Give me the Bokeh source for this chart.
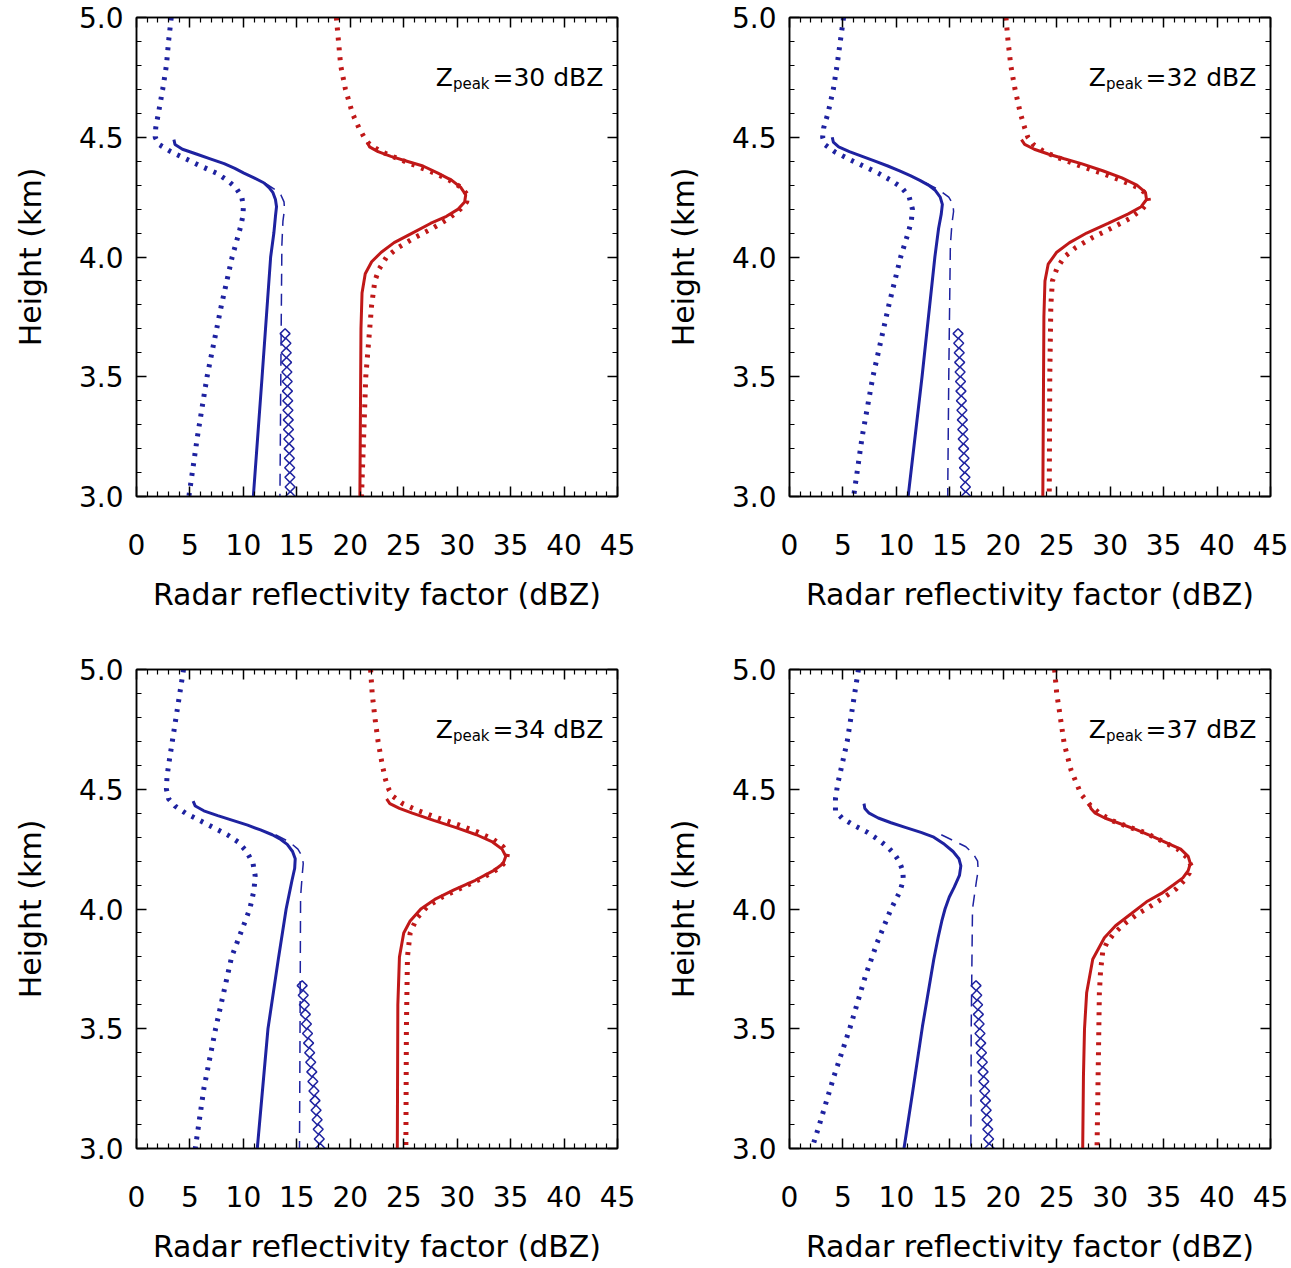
import math
from bokeh.plotting import figure
from bokeh.models import FixedTicker, LinearAxis, Label, Range1d, CustomLabelingPolicy
from bokeh.layouts import column, row
from bokeh.embed import file_html
from bokeh.resources import INLINE

# ---------------- data (height km, reflectivity dBZ) ----------------
peaks = [30, 32, 34, 37]

x_ticks = [0, 5, 10, 15, 20, 25, 30, 35, 40, 45]
x_minor = [v for v in range(0, 46) if v % 5 != 0]
y_ticks = [3.0, 3.5, 4.0, 4.5, 5.0]
y_tick_labels = ["3.0", "3.5", "4.0", "4.5", "5.0"]
y_minor = [3.1, 3.2, 3.3, 3.4, 3.6, 3.7, 3.8, 3.9, 4.1, 4.2, 4.3, 4.4, 4.6, 4.7, 4.8, 4.9]

# panel 1 (Zpeak = 30)
p1_bdot_h = [5.00, 4.90, 4.80, 4.70, 4.60, 4.54, 4.50, 4.47, 4.44, 4.41, 4.38, 4.35, 4.32, 4.29, 4.25, 4.21, 4.17, 4.12, 4.00, 3.80, 3.50, 3.25, 3.00]
p1_bdot_z = [3.25, 3.00, 2.80, 2.45, 2.05, 1.80, 1.75, 2.10, 3.20, 4.60, 6.00, 7.50, 8.50, 9.30, 9.85, 10.0, 9.95, 9.70, 8.95, 7.95, 6.60, 5.70, 4.90]
p1_bsol_h = [4.49, 4.47, 4.45, 4.43, 4.41, 4.39, 4.37, 4.35, 4.33, 4.31, 4.29, 4.27, 4.24, 4.21, 4.17, 4.10, 4.00, 3.50, 3.00]
p1_bsol_z = [3.50, 3.60, 4.30, 5.60, 6.90, 8.20, 9.20, 10.05, 11.0, 11.9, 12.4, 12.75, 13.0, 13.1, 13.0, 12.85, 12.55, 11.75, 10.93]
p1_bdash_h = [4.31, 4.28, 4.26, 4.23, 4.20, 4.15, 4.05, 3.50, 3.00]
p1_bdash_z = [12.0, 13.0, 13.5, 13.8, 13.85, 13.7, 13.6, 13.5, 13.42]
p1_rsol_h = [4.48, 4.46, 4.44, 4.42, 4.40, 4.38, 4.35, 4.32, 4.29, 4.26, 4.23, 4.20, 4.17, 4.14, 4.10, 4.06, 4.02, 3.98, 3.93, 3.85, 3.70, 3.00]
p1_rsol_z = [21.6, 21.8, 22.6, 23.8, 25.3, 26.8, 28.2, 29.5, 30.35, 30.8, 30.7, 30.1, 29.0, 27.5, 25.8, 24.1, 22.9, 22.0, 21.4, 21.1, 21.0, 20.9]
p1_rdot_h = [5.00, 4.90, 4.80, 4.70, 4.60, 4.54, 4.50, 4.47, 4.44, 4.41, 4.38, 4.35, 4.32, 4.29, 4.26, 4.23, 4.20, 4.16, 4.12, 4.08, 4.04, 4.00, 3.95, 3.90, 3.80, 3.50, 3.00]
p1_rdot_z = [18.7, 18.9, 19.1, 19.55, 20.2, 20.8, 21.3, 21.8, 22.9, 24.5, 26.2, 27.9, 29.3, 30.4, 30.95, 30.9, 30.3, 29.2, 27.7, 26.0, 24.5, 23.4, 22.7, 22.3, 22.0, 21.45, 21.05]

# panel 2 (Zpeak = 32)
p2_bdot_h = [5.00, 4.90, 4.80, 4.70, 4.60, 4.54, 4.50, 4.47, 4.44, 4.41, 4.38, 4.35, 4.32, 4.29, 4.25, 4.20, 4.15, 4.10, 4.00, 3.80, 3.50, 3.25, 3.00]
p2_bdot_z = [5.06, 4.75, 4.45, 4.10, 3.60, 3.20, 3.10, 3.30, 4.20, 5.50, 6.90, 8.30, 9.50, 10.5, 11.2, 11.5, 11.4, 11.1, 10.4, 9.30, 7.80, 6.80, 6.00]
p2_bsol_h = [4.50, 4.48, 4.46, 4.44, 4.42, 4.40, 4.38, 4.36, 4.34, 4.32, 4.30, 4.28, 4.25, 4.22, 4.18, 4.12, 4.00, 3.50, 3.00]
p2_bsol_z = [4.00, 4.10, 4.60, 5.60, 6.80, 8.00, 9.20, 10.3, 11.3, 12.2, 13.0, 13.6, 14.1, 14.3, 14.2, 13.95, 13.6, 12.4, 11.1]
p2_bdash_h = [4.31, 4.28, 4.25, 4.22, 4.19, 4.14, 4.05, 3.50, 3.00]
p2_bdash_z = [12.7, 14.0, 14.9, 15.3, 15.35, 15.2, 15.05, 14.9, 14.8]
p2_rsol_h = [4.49, 4.47, 4.45, 4.43, 4.41, 4.39, 4.36, 4.33, 4.30, 4.27, 4.24, 4.21, 4.18, 4.14, 4.10, 4.06, 4.02, 3.97, 3.90, 3.75, 3.00]
p2_rsol_z = [21.7, 22.0, 22.9, 24.2, 25.7, 27.3, 29.3, 31.1, 32.5, 33.3, 33.4, 32.9, 31.7, 29.8, 27.8, 26.2, 25.0, 24.2, 23.9, 23.8, 23.7]
p2_rdot_h = [5.00, 4.90, 4.80, 4.70, 4.60, 4.54, 4.50, 4.47, 4.44, 4.41, 4.38, 4.35, 4.32, 4.29, 4.26, 4.23, 4.20, 4.16, 4.12, 4.08, 4.04, 4.00, 3.95, 3.90, 3.80, 3.50, 3.00]
p2_rdot_z = [20.25, 20.45, 20.7, 21.1, 21.6, 22.0, 22.3, 22.8, 23.8, 25.4, 27.2, 29.2, 31.0, 32.6, 33.5, 33.6, 33.0, 31.8, 30.1, 28.3, 26.8, 25.7, 25.0, 24.6, 24.45, 24.35, 24.3]

# panel 3 (Zpeak = 34)
p3_bdot_h = [5.00, 4.90, 4.80, 4.70, 4.60, 4.55, 4.50, 4.46, 4.43, 4.40, 4.37, 4.34, 4.31, 4.28, 4.24, 4.19, 4.14, 4.08, 4.00, 3.80, 3.50, 3.25, 3.00]
p3_bdot_z = [4.40, 4.05, 3.70, 3.35, 3.00, 2.85, 2.80, 3.00, 3.60, 4.60, 5.90, 7.20, 8.50, 9.50, 10.3, 10.9, 11.1, 11.0, 10.6, 8.90, 7.40, 6.30, 5.50]
p3_bsol_h = [4.45, 4.43, 4.41, 4.39, 4.37, 4.35, 4.33, 4.31, 4.29, 4.27, 4.24, 4.21, 4.17, 4.12, 4.00, 3.80, 3.50, 3.00]
p3_bsol_z = [5.30, 5.50, 6.30, 7.60, 9.00, 10.4, 11.6, 12.7, 13.5, 14.1, 14.6, 14.85, 14.8, 14.55, 14.0, 13.3, 12.3, 11.3]
p3_bdash_h = [4.31, 4.28, 4.25, 4.22, 4.19, 4.14, 4.05, 3.50, 3.00]
p3_bdash_z = [13.0, 14.3, 15.1, 15.5, 15.6, 15.5, 15.35, 15.3, 15.25]
p3_rsol_h = [4.46, 4.44, 4.42, 4.40, 4.37, 4.34, 4.31, 4.28, 4.25, 4.22, 4.19, 4.16, 4.12, 4.08, 4.04, 4.00, 3.95, 3.90, 3.80, 3.60, 3.00]
p3_rsol_z = [23.4, 23.7, 24.6, 25.8, 27.8, 29.9, 31.8, 33.3, 34.2, 34.55, 34.3, 33.4, 31.7, 29.7, 27.9, 26.6, 25.6, 25.0, 24.6, 24.45, 24.4]
p3_rdot_h = [5.00, 4.90, 4.80, 4.70, 4.60, 4.54, 4.50, 4.47, 4.44, 4.41, 4.38, 4.35, 4.32, 4.29, 4.26, 4.23, 4.20, 4.17, 4.13, 4.09, 4.05, 4.01, 3.96, 3.90, 3.80, 3.50, 3.00]
p3_rdot_z = [21.9, 22.05, 22.3, 22.6, 23.0, 23.3, 23.6, 24.0, 24.9, 26.4, 28.2, 30.2, 32.0, 33.4, 34.3, 34.7, 34.6, 33.9, 32.4, 30.5, 28.6, 27.2, 26.2, 25.6, 25.35, 25.25, 25.2]

# panel 4 (Zpeak = 37)
p4_bdot_h = [5.00, 4.90, 4.80, 4.70, 4.60, 4.52, 4.46, 4.41, 4.38, 4.35, 4.32, 4.29, 4.26, 4.23, 4.20, 4.16, 4.12, 4.07, 4.00, 3.86, 3.72, 3.51, 3.30, 3.10, 3.00]
p4_bdot_z = [6.45, 6.10, 5.75, 5.40, 4.90, 4.50, 4.30, 4.30, 4.90, 6.00, 7.30, 8.30, 9.15, 9.80, 10.25, 10.6, 10.65, 10.3, 9.50, 8.20, 7.10, 5.70, 4.15, 2.80, 2.10]
p4_bsol_h = [4.44, 4.42, 4.40, 4.38, 4.36, 4.34, 4.32, 4.30, 4.27, 4.24, 4.21, 4.18, 4.14, 4.09, 4.05, 4.00, 3.95, 3.88, 3.79, 3.51, 3.23, 3.00]
p4_bsol_z = [6.97, 7.05, 7.45, 8.30, 9.50, 10.9, 12.3, 13.5, 14.5, 15.3, 15.85, 16.03, 15.9, 15.4, 14.95, 14.55, 14.25, 13.9, 13.5, 12.44, 11.5, 10.71]
p4_bdash_h = [4.31, 4.28, 4.26, 4.23, 4.20, 4.16, 4.12, 4.00, 3.50, 3.00]
p4_bdash_z = [14.2, 15.6, 16.5, 17.2, 17.6, 17.65, 17.5, 17.12, 17.0, 16.97]
p4_rsol_h = [4.44, 4.42, 4.40, 4.38, 4.36, 4.33, 4.30, 4.27, 4.25, 4.22, 4.19, 4.16, 4.13, 4.10, 4.065, 4.03, 3.98, 3.93, 3.88, 3.79, 3.65, 3.50, 3.30, 3.00]
p4_rsol_z = [28.05, 28.2, 28.6, 29.5, 30.7, 32.5, 34.1, 35.6, 36.6, 37.3, 37.5, 37.3, 36.8, 35.9, 34.8, 33.4, 31.96, 30.5, 29.46, 28.37, 27.8, 27.6, 27.5, 27.43]
p4_rdot_h = [5.00, 4.90, 4.83, 4.69, 4.58, 4.48, 4.43, 4.40, 4.37, 4.345, 4.32, 4.285, 4.25, 4.215, 4.18, 4.15, 4.12, 4.085, 4.05, 4.015, 3.98, 3.94, 3.90, 3.86, 3.82, 3.74, 3.65, 3.00]
p4_rdot_z = [24.8, 25.0, 25.24, 25.7, 26.34, 27.27, 28.2, 29.0, 30.1, 31.6, 33.2, 34.8, 36.3, 37.2, 37.58, 37.4, 36.95, 36.2, 35.1, 33.9, 32.6, 31.4, 30.4, 29.7, 29.3, 29.1, 28.99, 28.77]

# diamonds (same heights in every panel)
diam_h = [3.00, 3.04, 3.08, 3.12, 3.16, 3.20, 3.24, 3.28, 3.32, 3.36, 3.40, 3.44, 3.48, 3.52, 3.56, 3.60, 3.64, 3.68]
p1_diam_z = [14.40, 14.37, 14.35, 14.33, 14.30, 14.28, 14.25, 14.22, 14.20, 14.17, 14.15, 14.12, 14.10, 14.07, 14.04, 14.01, 13.98, 13.90]
p2_diam_z = [16.50, 16.46, 16.42, 16.37, 16.33, 16.29, 16.25, 16.21, 16.17, 16.13, 16.08, 16.04, 16.00, 15.96, 15.92, 15.88, 15.83, 15.77]
p3_diam_z = [17.20, 17.10, 17.00, 16.90, 16.80, 16.70, 16.60, 16.50, 16.40, 16.30, 16.20, 16.10, 16.00, 15.90, 15.80, 15.70, 15.60, 15.50]
p4_diam_z = [18.70, 18.63, 18.55, 18.48, 18.40, 18.33, 18.26, 18.18, 18.11, 18.04, 17.96, 17.89, 17.82, 17.74, 17.67, 17.60, 17.52, 17.45]

panels = [
    dict(bdot=(p1_bdot_z, p1_bdot_h), bsol=(p1_bsol_z, p1_bsol_h), bdash=(p1_bdash_z, p1_bdash_h),
         rsol=(p1_rsol_z, p1_rsol_h), rdot=(p1_rdot_z, p1_rdot_h), diam=(p1_diam_z, diam_h)),
    dict(bdot=(p2_bdot_z, p2_bdot_h), bsol=(p2_bsol_z, p2_bsol_h), bdash=(p2_bdash_z, p2_bdash_h),
         rsol=(p2_rsol_z, p2_rsol_h), rdot=(p2_rdot_z, p2_rdot_h), diam=(p2_diam_z, diam_h)),
    dict(bdot=(p3_bdot_z, p3_bdot_h), bsol=(p3_bsol_z, p3_bsol_h), bdash=(p3_bdash_z, p3_bdash_h),
         rsol=(p3_rsol_z, p3_rsol_h), rdot=(p3_rdot_z, p3_rdot_h), diam=(p3_diam_z, diam_h)),
    dict(bdot=(p4_bdot_z, p4_bdot_h), bsol=(p4_bsol_z, p4_bsol_h), bdash=(p4_bdash_z, p4_bdash_h),
         rsol=(p4_rsol_z, p4_rsol_h), rdot=(p4_rdot_z, p4_rdot_h), diam=(p4_diam_z, diam_h)),
]

# ---------------- styling ----------------
BLUE = "#1e22a0"
RED = "#c01818"
FONT = "DejaVu Sans"

HIDE_ALL = "for (const i of indices) { indices.unset(i) }\nreturn indices"


def style_axis(ax, ticks, minor, show_labels):
    ax.ticker = FixedTicker(ticks=ticks, minor_ticks=minor)
    ax.major_tick_in = 10
    ax.major_tick_out = 0
    ax.minor_tick_in = 5
    ax.minor_tick_out = 0
    ax.major_tick_line_width = 1.5
    ax.minor_tick_line_width = 1.2
    ax.axis_line_width = 1.5
    ax.axis_line_color = "black"
    ax.major_tick_line_color = "black"
    ax.minor_tick_line_color = "black"
    if show_labels:
        ax.major_label_text_font = FONT
        ax.major_label_text_font_size = "28px"
        ax.major_label_text_color = "black"
    else:
        ax.major_label_text_font_size = "1px"
        ax.major_label_standoff = 0
        ax.major_label_policy = CustomLabelingPolicy(code=HIDE_ALL)


def make_panel(d, zpeak, width, height, border_right, border_bottom):
    p = figure(width=width, height=height, x_range=Range1d(0, 45), y_range=Range1d(3, 5),
               output_backend="svg", toolbar_location=None,
               min_border_left=136, min_border_right=border_right,
               min_border_top=17, min_border_bottom=border_bottom)
    p.grid.visible = False
    p.outline_line_color = "black"
    p.outline_line_width = 1.5
    p.outline_line_alpha = 1.0
    p.background_fill_color = "white"
    p.border_fill_color = "white"

    style_axis(p.xaxis[0], x_ticks, x_minor, True)
    style_axis(p.yaxis[0], y_ticks, y_minor, True)
    p.yaxis[0].major_label_overrides = {v: s for v, s in zip(y_ticks, y_tick_labels)}
    p.xaxis[0].major_label_standoff = 37
    p.yaxis[0].major_label_standoff = 13
    p.xaxis[0].axis_label = "Radar reflectivity factor (dBZ)"
    p.yaxis[0].axis_label = "Height (km)"
    for ax in (p.xaxis[0], p.yaxis[0]):
        ax.axis_label_text_font = FONT
        ax.axis_label_text_font_size = "30px"
        ax.axis_label_text_font_style = "normal"
        ax.axis_label_text_color = "black"
    p.xaxis[0].axis_label_standoff = 19
    p.yaxis[0].axis_label_standoff = 28

    top = LinearAxis()
    style_axis(top, x_ticks, x_minor, False)
    p.add_layout(top, "above")
    right = LinearAxis()
    style_axis(right, y_ticks, y_minor, False)
    p.add_layout(right, "right")

    # curves
    p.line(d["bdot"][0], d["bdot"][1], line_color=BLUE, line_width=5, line_dash="3 7")
    p.line(d["rdot"][0], d["rdot"][1], line_color=RED, line_width=5, line_dash="3 7")
    p.line(d["bdash"][0], d["bdash"][1], line_color=BLUE, line_width=1.5, line_dash="12 8")
    p.line(d["bsol"][0], d["bsol"][1], line_color=BLUE, line_width=3)
    p.line(d["rsol"][0], d["rsol"][1], line_color=RED, line_width=3)
    p.scatter(d["diam"][0], d["diam"][1], marker="square", angle=math.pi / 4, size=7,
              fill_color=None, line_color=BLUE, line_width=1.5)

    # annotation  Z_peak = .. dBZ
    p.add_layout(Label(x=28.0, y=4.751, text="Z", text_font=FONT, text_font_size="25px",
                       text_color="black", text_baseline="alphabetic", text_align="left"))
    p.add_layout(Label(x=29.6, y=4.724, text="peak", text_font=FONT, text_font_size="15px",
                       text_color="black", text_baseline="alphabetic", text_align="left"))
    p.add_layout(Label(x=33.3, y=4.751, text="=%d dBZ" % zpeak, text_font=FONT,
                       text_font_size="25px", text_color="black",
                       text_baseline="alphabetic", text_align="left"))
    return p


p1 = make_panel(panels[0], peaks[0], 653, 652, 36, 156)
p2 = make_panel(panels[1], peaks[1], 638, 652, 21, 156)
p3 = make_panel(panels[2], peaks[2], 653, 616, 36, 120)
p4 = make_panel(panels[3], peaks[3], 638, 616, 21, 120)

layout = column(row(p1, p2), row(p3, p4))
open("out.html", "w").write(file_html(layout, INLINE))
